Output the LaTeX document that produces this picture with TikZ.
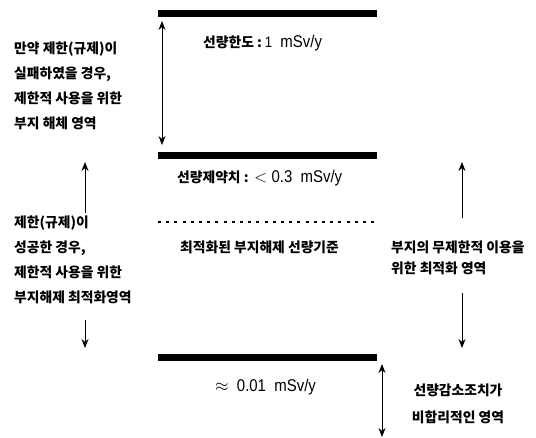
\documentclass[tikz,border=0pt]{standalone}
\usepackage{fontspec}
\setmainfont{Liberation Sans}
\newfontfamily\kr{Noto Sans CJK KR}
\newfontfamily\lat[FakeStretch=0.88]{Liberation Sans}
\usetikzlibrary{arrows.meta}
\begin{document}
\begin{tikzpicture}[x=1pt,y=-1pt,
  bar/.style={line width=7pt},
  arr/.style={line width=0.9pt,-{Stealth[length=9pt,width=7pt]}},
  darr/.style={line width=0.9pt,{Stealth[length=9pt,width=7pt]}-{Stealth[length=9pt,width=7pt]}},
  lbl/.style={inner sep=0pt,font=\kr\bfseries\fontsize{13.8}{25}\selectfont},
  val/.style={inner sep=0pt,font=\lat\fontsize{17}{20}\selectfont}]
\useasboundingbox (0,0) rectangle (536,437);
% bars
\coordinate (b1l) at (158,13.5); \coordinate (b1r) at (377,13.5);
\coordinate (b2l) at (158,155.5); \coordinate (b2r) at (377,155.5);
\coordinate (b3l) at (158,357.5); \coordinate (b3r) at (377,357.5);
\coordinate (dl) at (158,222); \coordinate (dr) at (375,222);
\draw[bar] (b1l) -- (b1r);
\draw[bar] (b2l) -- (b2r);
\draw[bar] (b3l) -- (b3r);
\draw[line width=1.6pt,dash pattern=on 3pt off 5.2pt] (dl) -- (dr);
% value labels
\node[val,anchor=west] (v1) at (203,43) {{\kr\bfseries\fontsize{13.8}{18}\selectfont 선량한도 :}\,{\fontsize{15}{18}\selectfont 1}\ \ mSv/y};
\node[val,anchor=west] (v2) at (177,178) {{\kr\bfseries\fontsize{13.8}{18}\selectfont 선량제약치 :} $<$ 0.3 \ mSv/y};
\node[lbl,anchor=west] (v3) at (180,247) {최적화된 부지해제 선량기준};
\node[val,anchor=west] (v4) at (215,387) {$\approx$ \ 0.01 \ mSv/y};
% left texts
\node[lbl,anchor=west,align=left] (t1) at (14,86) {만약 제한(규제)이\\실패하였을 경우,\\제한적 사용을 위한\\부지 해체 영역};
\node[lbl,anchor=west,align=left] (t2) at (14,259.5) {제한(규제)이\\성공한 경우,\\제한적 사용을 위한\\부지해제 최적화영역};
% right texts
\node[lbl,anchor=west,align=left,font=\kr\bfseries\fontsize{13.8}{21}\selectfont] (t3) at (391,257.5) {부지의 무제한적 이용을\\위한 최적화 영역};
\node[lbl,align=center,font=\kr\bfseries\fontsize{13.8}{27}\selectfont] (t4) at (458,403.5) {선량감소조치가\\비합리적인 영역};
% arrows
\coordinate (a1t) at (162,21); \coordinate (a1b) at (162,145);
\draw[darr] (a1t) -- (a1b);
\coordinate (a2s) at (85,213); \coordinate (a2e) at (85,162);
\draw[arr] (a2s) -- (a2e);
\coordinate (a3s) at (85,320); \coordinate (a3e) at (85,348);
\draw[arr] (a3s) -- (a3e);
\coordinate (a4s) at (462,218); \coordinate (a4e) at (462,162);
\draw[arr] (a4s) -- (a4e);
\coordinate (a5s) at (462,293); \coordinate (a5e) at (462,348);
\draw[arr] (a5s) -- (a5e);
\coordinate (a6t) at (382,364); \coordinate (a6b) at (382,437);
\draw[darr] (a6t) -- (a6b);
\end{tikzpicture}
\end{document}
